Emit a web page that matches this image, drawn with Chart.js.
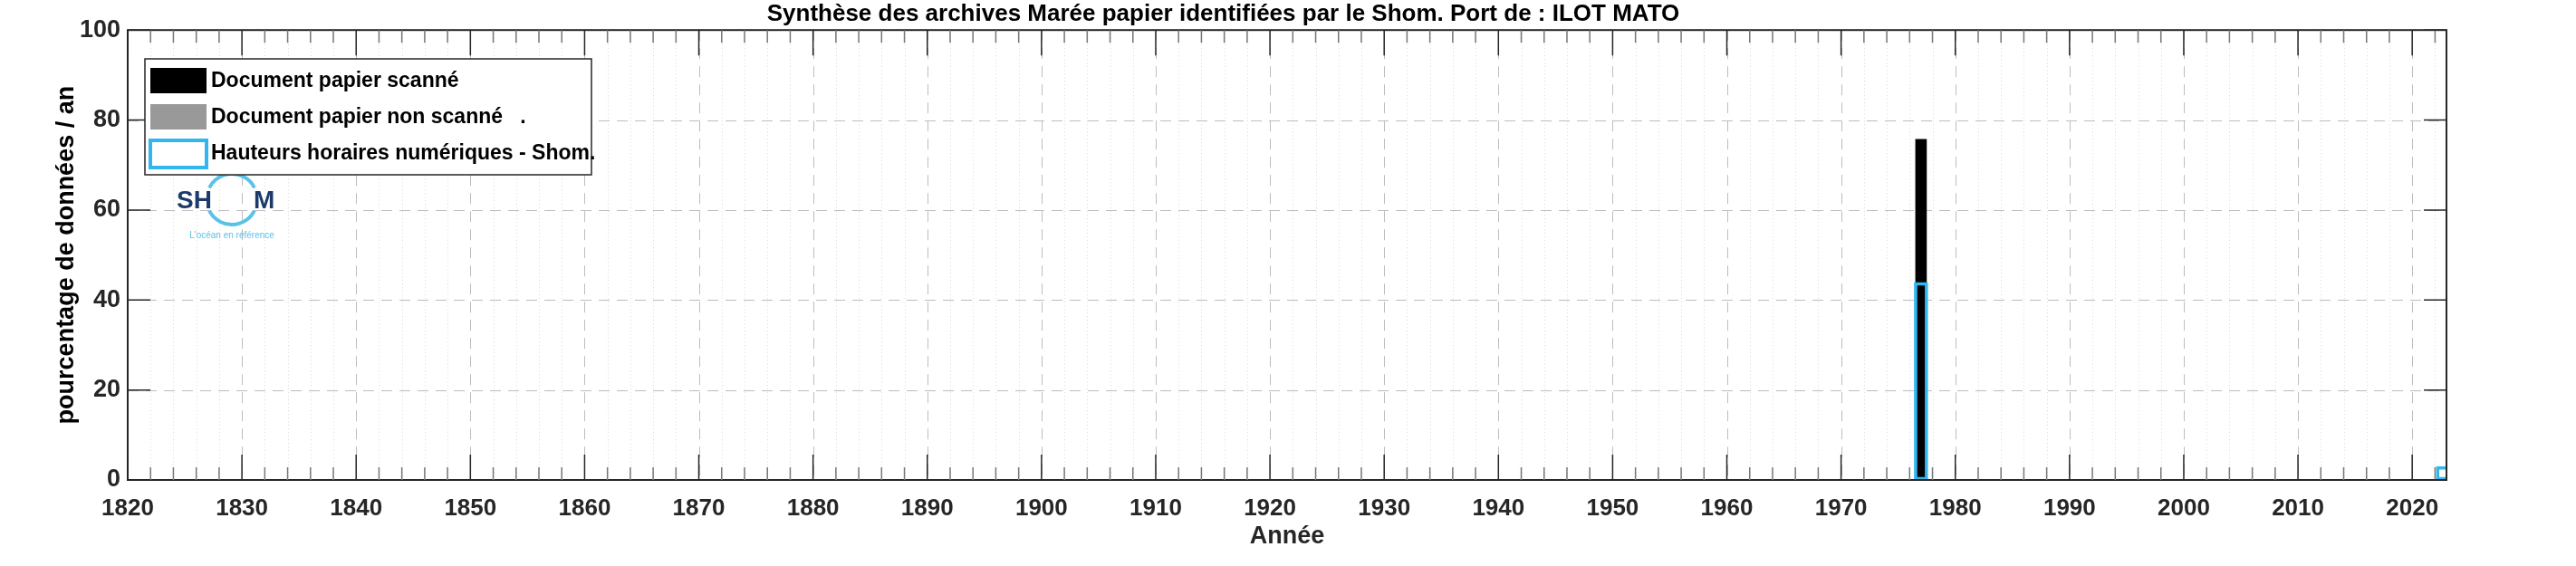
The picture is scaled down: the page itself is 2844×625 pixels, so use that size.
<!DOCTYPE html>
<html><head><meta charset="utf-8">
<script src="https://cdn.jsdelivr.net/npm/chart.js@4"></script>
<style>html,body{margin:0;background:#fff}#wrap{width:2844px;height:625px}</style>
</head><body><div id="wrap"><canvas id="c"></canvas></div>
<script>
// --- données ---
const scannedYears = [1977];
const scannedPct = [75.7];
const nonScannedYears = [];
const nonScannedPct = [];
const numericYears = [1977, 2022.7];
const numericPct = [43.9, 3];
const yTicks = [0, 20, 40, 60, 80, 100];
const xMin = 1820, xMax = 2023;

const pts = (xs, ys) => xs.map((x, i) => ({ x: x, y: ys[i] }));
const FONT = "'Liberation Sans', Arial, sans-serif";

// grille style MATLAB + cadre + logo
const gridPlugin = {
  id: "grid",
  beforeDatasetsDraw(chart) {
    const { ctx, chartArea: a, scales: { x, y } } = chart;
    ctx.save();
    ctx.lineWidth = 1;
    for (let yr = xMin; yr <= xMax; yr++) {
      if (yr % 2) continue;
      const px = Math.round(x.getPixelForValue(yr)) + 0.5;
      ctx.strokeStyle = yr % 10 ? "#d8d8d8" : "#bdbdbd";
      ctx.setLineDash(yr % 10 ? [1, 3] : [12, 8]);
      ctx.beginPath(); ctx.moveTo(px, a.top); ctx.lineTo(px, a.bottom); ctx.stroke();
    }
    ctx.strokeStyle = "#bdbdbd"; ctx.setLineDash([12, 8]);
    yTicks.forEach(v => {
      const py = Math.round(y.getPixelForValue(v)) + 0.5;
      ctx.beginPath(); ctx.moveTo(a.left, py); ctx.lineTo(a.right, py); ctx.stroke();
    });
    ctx.setLineDash([]);
    // logo
    const lx = 256, ly = 220;
    ctx.strokeStyle = "#5bc2e7"; ctx.lineWidth = 4;
    ctx.beginPath(); ctx.arc(lx, ly, 28, Math.PI * 1.15, Math.PI * 1.85); ctx.stroke();
    ctx.beginPath(); ctx.arc(lx, ly, 28, Math.PI * 0.15, Math.PI * 0.85); ctx.stroke();
    ctx.fillStyle = "#1d3a6b"; ctx.font = "bold 28px " + FONT; ctx.textBaseline = "middle";
    ctx.textAlign = "right"; ctx.fillText("SH", lx - 22, ly + 2);
    ctx.textAlign = "left"; ctx.fillText("M", lx + 24, ly + 2);
    ctx.fillStyle = "#5bc2e7"; ctx.font = "10px " + FONT; ctx.textAlign = "center";
    ctx.fillText("L'océan en référence", lx, ly + 40);
    ctx.restore();
  },
  afterDraw(chart) {
    const { ctx, chartArea: a, scales: { x, y } } = chart;
    ctx.save();
    ctx.strokeStyle = "#262626"; ctx.lineWidth = 2;
    ctx.strokeRect(a.left, a.top, a.right - a.left, a.bottom - a.top);
    ctx.lineWidth = 1.5;
    for (let yr = xMin; yr <= xMax; yr += 2) {
      const px = x.getPixelForValue(yr), L = yr % 10 ? 14 : 28;
      ctx.strokeStyle = yr % 10 ? "#777" : "#262626";
      ctx.beginPath(); ctx.moveTo(px, a.bottom); ctx.lineTo(px, a.bottom - L);
      ctx.moveTo(px, a.top); ctx.lineTo(px, a.top + L); ctx.stroke();
    }
    ctx.strokeStyle = "#262626";
    ctx.fillStyle = "#262626"; ctx.font = "bold 27px " + FONT;
    ctx.textAlign = "right"; ctx.textBaseline = "middle";
    yTicks.forEach(v => {
      const py = y.getPixelForValue(v);
      ctx.beginPath(); ctx.moveTo(a.left, py); ctx.lineTo(a.left + 25, py);
      ctx.moveTo(a.right, py); ctx.lineTo(a.right - 25, py); ctx.stroke();
      ctx.fillText(String(v), a.left - 8, py);
    });
    // légende
    const bx = 160, by = 65, bw = 493, bh = 128;
    ctx.fillStyle = "#fff"; ctx.fillRect(bx, by, bw, bh);
    ctx.strokeStyle = "#262626"; ctx.lineWidth = 1.5; ctx.strokeRect(bx, by, bw, bh);
    const items = [
      ["Document papier scanné", "#000", null],
      ["Document papier non scanné   .", "#999", null],
      ["Hauteurs horaires numériques - Shom.", "#fff", "#33b6f0"]
    ];
    ctx.font = "bold 23px 'Liberation Sans Narrow', " + FONT;
    ctx.textBaseline = "middle"; ctx.textAlign = "left";
    items.forEach((it, i) => {
      const cy = by + 24 + i * 40;
      ctx.fillStyle = it[1]; ctx.fillRect(bx + 6, cy - 14, 62, 28);
      if (it[2]) { ctx.strokeStyle = it[2]; ctx.lineWidth = 4; ctx.strokeRect(bx + 6, cy - 14, 62, 30); }
      ctx.fillStyle = "#000"; ctx.fillText(it[0], bx + 73, cy + 1);
    });
    ctx.restore();
  }
};

new Chart(document.getElementById("c"), {
  type: "bar",
  data: {
    datasets: [
      { label: "Document papier scanné", data: pts(scannedYears, scannedPct), backgroundColor: "#000", barThickness: 12, grouped: false, order: 2 },
      { label: "Document papier non scanné", data: pts(nonScannedYears, nonScannedPct), backgroundColor: "#999", barThickness: 12, grouped: false, order: 1 },
      { label: "Hauteurs horaires numériques - Shom.", data: pts(numericYears, numericPct), backgroundColor: "rgba(0,0,0,0)", borderColor: "#33b6f0", borderWidth: 3, borderSkipped: false, barThickness: 15, grouped: false, order: 0 }
    ]
  },
  options: {
    responsive: true, maintainAspectRatio: false, animation: false,
    layout: { padding: { left: 0, right: 143, top: 0, bottom: 16 } },
    plugins: {
      legend: { display: false }, tooltip: { enabled: false },
      title: { display: true, text: "Synthèse des archives Marée papier identifiées par le Shom. Port de : ILOT MATO",
        color: "#000", font: { family: FONT, size: 26, weight: "bold" }, padding: { top: 0, bottom: 2 } }
    },
    scales: {
      x: {
        type: "linear", min: xMin, max: xMax, offset: false, grid: { display: false }, border: { display: false },
        ticks: { stepSize: 10, color: "#262626", font: { family: FONT, size: 26, weight: "bold" }, padding: 8,
          callback: v => v % 10 === 0 ? String(v) : "" },
        afterBuildTicks: s => { s.ticks = []; for (let v = xMin - xMin % 10; v <= xMax; v += 10) if (v >= xMin) s.ticks.push({ value: v }); },
        title: { display: true, text: "Année", color: "#262626", font: { family: FONT, size: 27, weight: "bold" }, padding: 0 },
        afterFit: s => { s.height = 79; }
      },
      y: {
        min: 0, max: 100, grid: { display: false }, border: { display: false },
        ticks: { display: false, stepSize: 20 },
        title: { display: true, text: "pourcentage de données / an", color: "#000", font: { family: FONT, size: 27, weight: "bold" }, padding: { top: 57, bottom: 4 } },
        afterFit: s => { s.width = 141; }
      }
    }
  },
  plugins: [gridPlugin]
});
</script></body></html>
